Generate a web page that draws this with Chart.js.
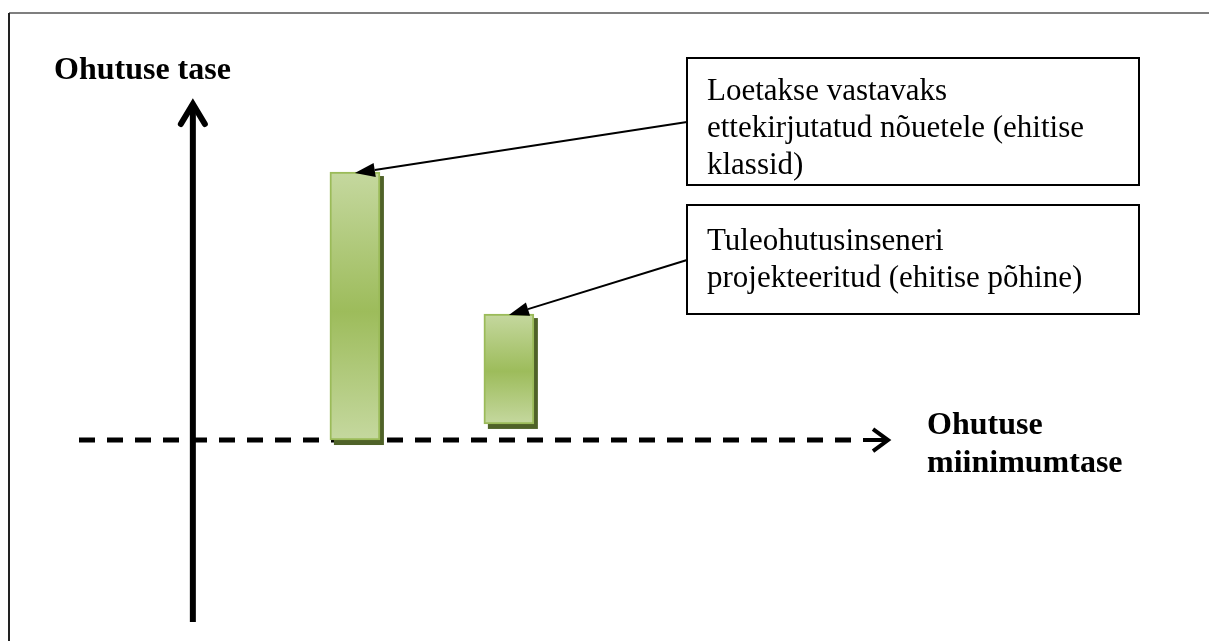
<!DOCTYPE html>
<html>
<head>
<meta charset="utf-8">
<script src="https://cdn.jsdelivr.net/npm/chart.js@4.4.1/dist/chart.umd.min.js"></script>
<style>
  html, body { margin: 0; padding: 0; background: #fff; }
  #wrap { width: 1209px; height: 641px; }
</style>
</head>
<body>
<div id="wrap"><canvas id="levelChart" width="1209" height="641"></canvas></div>
<script>
// safety level diagram: two floating bars above the minimum level
const categories = ['Ettekirjutatud nõuded', 'Tuleohutusinseneri projekt'];
const barPositions = [1, 1.95];
const levelLow = [0, 0.6];
const levelHigh = [10, 4.7];

const yAxisTitle = 'Ohutuse tase';
const xAxisTitle = ['Ohutuse', 'miinimumtase'];
const calloutLines = [
  ['Loetakse vastavaks', 'ettekirjutatud nõuetele (ehitise', 'klassid)'],
  ['Tuleohutusinseneri', 'projekteeritud (ehitise põhine)']
];

const serif = '"Liberation Serif", "Times New Roman", serif';

const barGradient = (context) => {
  const chart = context.chart;
  const yScale = chart.scales.y;
  if (!yScale || context.dataIndex === undefined) return '#9bbb59';
  const top = yScale.getPixelForValue(levelHigh[context.dataIndex]);
  const bottom = yScale.getPixelForValue(levelLow[context.dataIndex]);
  if (!isFinite(top) || !isFinite(bottom) || top === bottom) return '#9bbb59';
  const g = chart.ctx.createLinearGradient(0, top, 0, bottom);
  g.addColorStop(0, '#c5d89f');
  g.addColorStop(0.52, '#9dbc5b');
  g.addColorStop(1, '#c5d89f');
  return g;
};

const diagramPlugin = {
  id: 'diagram',
  beforeDraw(chart) {
    const ctx = chart.ctx;
    ctx.save();
    ctx.fillStyle = '#fff';
    ctx.fillRect(0, 0, chart.width, chart.height);
    // frame
    ctx.strokeStyle = '#7f7f7f';
    ctx.lineWidth = 2;
    ctx.beginPath();
    ctx.moveTo(9, 13);
    ctx.lineTo(chart.width, 13);
    ctx.stroke();
    ctx.strokeStyle = '#222';
    ctx.beginPath();
    ctx.moveTo(9, 13);
    ctx.lineTo(9, chart.height);
    ctx.stroke();
    ctx.restore();
  },
  beforeDatasetsDraw(chart) {
    const ctx = chart.ctx;
    const x0 = chart.scales.x.getPixelForValue(0);
    const y0 = chart.scales.y.getPixelForValue(0);
    ctx.save();
    ctx.strokeStyle = '#000';
    // vertical axis arrow
    ctx.lineWidth = 6;
    ctx.lineCap = 'butt';
    ctx.beginPath();
    ctx.moveTo(x0, 622);
    ctx.lineTo(x0, 106);
    ctx.stroke();
    ctx.lineJoin = 'miter';
    ctx.lineCap = 'round';
    ctx.beginPath();
    ctx.moveTo(x0 - 12, 124);
    ctx.lineTo(x0, 104);
    ctx.lineTo(x0 + 12, 124);
    ctx.stroke();
    // dashed minimum level
    ctx.lineWidth = 5;
    ctx.lineCap = 'butt';
    ctx.setLineDash([16, 12]);
    ctx.beginPath();
    ctx.moveTo(79, y0);
    ctx.lineTo(851, y0);
    ctx.stroke();
    ctx.setLineDash([]);
    ctx.lineWidth = 4;
    ctx.beginPath();
    ctx.moveTo(863, y0);
    ctx.lineTo(887, y0);
    ctx.stroke();
    ctx.lineJoin = 'miter';
    ctx.beginPath();
    ctx.moveTo(873, y0 - 11);
    ctx.lineTo(888, y0);
    ctx.lineTo(873, y0 + 11);
    ctx.stroke();
    // bar shadows
    ctx.fillStyle = '#4f6228';
    chart.getDatasetMeta(0).data.forEach((bar) => {
      const top = Math.min(bar.y, bar.base);
      const bottom = Math.max(bar.y, bar.base);
      ctx.fillRect(bar.x - bar.width / 2 + 4, top + 4, bar.width, bottom - top + 1);
    });
    ctx.restore();
  },
  afterDatasetsDraw(chart) {
    const ctx = chart.ctx;
    const bars = chart.getDatasetMeta(0).data;
    ctx.save();
    // axis titles
    ctx.fillStyle = '#000';
    ctx.font = 'bold 32px ' + serif;
    ctx.textBaseline = 'alphabetic';
    ctx.fillText(yAxisTitle, 54, 79);
    xAxisTitle.forEach((t, i) => ctx.fillText(t, 927, 434 + i * 38));

    // callout boxes
    const boxes = [
      { left: 687, top: 58, right: 1139, bottom: 185, first: 100, from: 122 },
      { left: 687, top: 205, right: 1139, bottom: 314, first: 250, from: 260 }
    ];
    boxes.forEach((b, i) => {
      ctx.fillStyle = '#fff';
      ctx.fillRect(b.left, b.top, b.right - b.left, b.bottom - b.top);
      ctx.strokeStyle = '#000';
      ctx.lineWidth = 2;
      ctx.strokeRect(b.left, b.top, b.right - b.left, b.bottom - b.top);
      ctx.fillStyle = '#000';
      ctx.font = '31px ' + serif;
      calloutLines[i].forEach((line, j) => ctx.fillText(line, 707, b.first + j * 37));

      // arrow to top of bar
      const bar = bars[i];
      const tipX = bar.x;
      const tipY = Math.min(bar.y, bar.base) + 1;
      const ang = Math.atan2(tipY - b.from, tipX - b.left);
      const len = 20, half = 7;
      const bx = tipX - Math.cos(ang) * len;
      const by = tipY - Math.sin(ang) * len;
      ctx.lineWidth = 2;
      ctx.beginPath();
      ctx.moveTo(b.left, b.from);
      ctx.lineTo(bx, by);
      ctx.stroke();
      ctx.beginPath();
      ctx.moveTo(tipX, tipY);
      ctx.lineTo(bx - Math.sin(ang) * half, by + Math.cos(ang) * half);
      ctx.lineTo(bx + Math.sin(ang) * half, by - Math.cos(ang) * half);
      ctx.closePath();
      ctx.fill();
    });
    ctx.restore();
  }
};

new Chart(document.getElementById('levelChart'), {
  type: 'bar',
  data: {
    labels: categories,
    datasets: [{
      label: yAxisTitle,
      data: barPositions.map((x, i) => ({ x: x, y: [levelLow[i], levelHigh[i]] })),
      backgroundColor: barGradient,
      borderColor: '#9bbb59',
      borderWidth: 2,
      borderSkipped: false,
      barThickness: 50
    }]
  },
  options: {
    responsive: false,
    animation: false,
    devicePixelRatio: 1,
    layout: { padding: 0 },
    plugins: {
      legend: { display: false },
      tooltip: { enabled: false },
      title: { display: false }
    },
    scales: {
      x: { type: 'linear', display: false, offset: false, min: -1.19, max: 6.27 },
      y: { type: 'linear', display: false, min: -7.5, max: 16.42 }
    }
  },
  plugins: [diagramPlugin]
});
</script>
</body>
</html>
